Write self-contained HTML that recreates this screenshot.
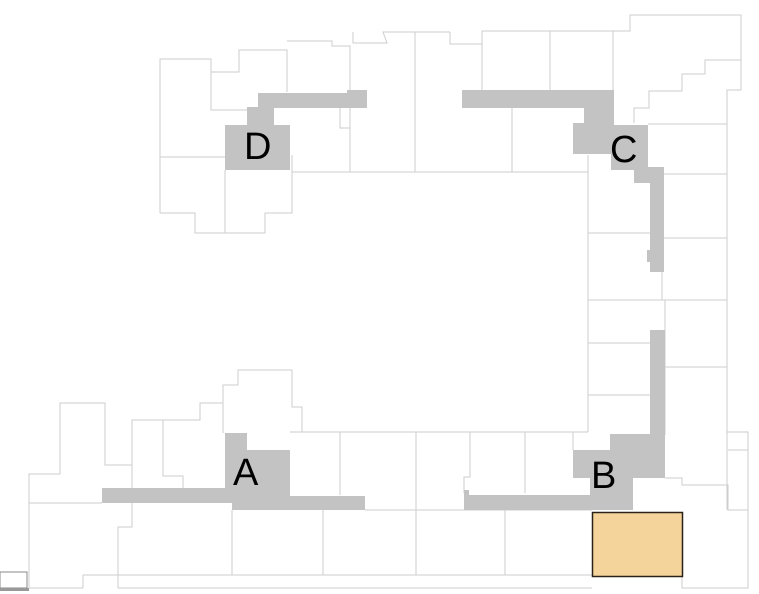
<!DOCTYPE html>
<html><head><meta charset="utf-8"><style>
html,body{margin:0;padding:0;background:#fff;}
svg{display:block;}
text{font-family:"Liberation Sans",sans-serif;font-size:38px;fill:#000;}
</style></head><body>
<svg width="759" height="594" viewBox="0 0 759 594" xmlns="http://www.w3.org/2000/svg">
<g fill="none" stroke="#cdcdcd" stroke-width="1">
<polyline points="160,213 160,59 211,59 211,110 253,110"/>
<polyline points="211,72 239,72 239,50 287,50 287,92"/>
<polyline points="287,41 332,41 332,46 350,46 350,92"/>
<polyline points="353,32 353,43 387,43 383,32 450,32"/>
<line x1="160" y1="157" x2="225" y2="157"/>
<polyline points="160,213 195,213 195,233 265,233 265,213 292,213 292,155"/>
<line x1="225" y1="170" x2="225" y2="233"/>
<polyline points="292,172 415,172"/>
<line x1="350" y1="108" x2="350" y2="172"/>
<polyline points="340,108 340,128 350,128"/>
<line x1="415" y1="32" x2="415" y2="172"/>
<polyline points="450,32 450,44 482,44 482,31 613,31 613,108"/>
<line x1="482" y1="44" x2="482" y2="93"/>
<line x1="550" y1="31" x2="550" y2="93"/>
<polyline points="613,31 630,31 630,15 741,15 741,90 727,90 727,510"/>
<polyline points="741,60 705,60 705,74 682,74 682,91 649,91 649,108 634,108 634,123"/>
<line x1="415" y1="172" x2="588" y2="172"/>
<line x1="512" y1="108" x2="512" y2="172"/>
<line x1="588" y1="155" x2="588" y2="432"/>
<line x1="648" y1="124" x2="727" y2="124"/>
<line x1="664" y1="174" x2="727" y2="174"/>
<line x1="664" y1="238" x2="727" y2="238"/>
<line x1="588" y1="233" x2="650" y2="233"/>
<line x1="662" y1="272" x2="662" y2="300"/>
<line x1="665" y1="300" x2="665" y2="435"/>
<line x1="588" y1="300" x2="727" y2="300"/>
<line x1="588" y1="343" x2="650" y2="343"/>
<line x1="588" y1="395" x2="650" y2="395"/>
<line x1="665" y1="367" x2="727" y2="367"/>
<polyline points="727,432 748,432 748,588 682,588 682,577"/>
<polyline points="728,450 748,450"/>
<polyline points="665,478 682,478 682,485 728,485 728,510 748,510"/>
<line x1="415" y1="432" x2="588" y2="432"/>
<line x1="416" y1="432" x2="416" y2="575"/>
<polyline points="470,432 470,477 464,477 464,493"/>
<line x1="525" y1="432" x2="525" y2="493"/>
<line x1="573" y1="432" x2="573" y2="450"/>
<line x1="365" y1="510" x2="592" y2="510"/>
<line x1="505" y1="510" x2="505" y2="575"/>
<line x1="118" y1="575" x2="592" y2="575"/>
<line x1="118" y1="588" x2="592" y2="588"/>
<polyline points="29,588 29,474 60,474 60,403 105,403 105,465 132,465 132,527 118,527 118,588"/>
<polyline points="132,465 132,420 163,420 163,476 183,476 183,488"/>
<polyline points="163,420 200,420 200,403 223,403 223,385 238,385 238,370 292,370 292,407 302,407 302,432 290,432"/>
<line x1="223" y1="385" x2="223" y2="433"/>
<line x1="290" y1="432" x2="415" y2="432"/>
<line x1="340" y1="432" x2="340" y2="495"/>
<line x1="29" y1="503" x2="102" y2="503"/>
<line x1="232" y1="510" x2="232" y2="575"/>
<line x1="323" y1="510" x2="323" y2="575"/>
<line x1="29" y1="588" x2="83" y2="588"/>
<line x1="83" y1="575" x2="118" y2="575"/>
<line x1="83" y1="575" x2="83" y2="588"/>
</g>
<rect x="0" y="572" width="27" height="16" fill="none" stroke="#888" stroke-width="1"/>
<rect x="0" y="588" width="29" height="3" fill="#999"/>
<g fill="#c3c3c3">
<rect x="258" y="93" width="109" height="15"/>
<rect x="347" y="90" width="20" height="18"/>
<rect x="247" y="107" width="27" height="20"/>
<rect x="225" y="125" width="65" height="45"/>
<rect x="462" y="90" width="152" height="18"/>
<rect x="584" y="106" width="30" height="20"/>
<rect x="573" y="123" width="41" height="31"/>
<rect x="611" y="125" width="37" height="45"/>
<rect x="634" y="167" width="30" height="16"/>
<rect x="650" y="180" width="14" height="92"/>
<rect x="647" y="250" width="5" height="12"/>
<rect x="102" y="488" width="130" height="15"/>
<rect x="225" y="433" width="22" height="20"/>
<rect x="225" y="450" width="65" height="46"/>
<rect x="232" y="490" width="42" height="20"/>
<rect x="274" y="496" width="91" height="14"/>
<rect x="650" y="330" width="15" height="105"/>
<rect x="610" y="434" width="55" height="44"/>
<rect x="573" y="450" width="40" height="28"/>
<rect x="590" y="476" width="43" height="34"/>
<rect x="464" y="495" width="130" height="15"/>
<rect x="464" y="490" width="5" height="6"/>
</g>
<rect x="592.5" y="512.5" width="90" height="64" fill="#f5d49c" stroke="#2a2218" stroke-width="1.5"/>
<text x="244" y="159">D</text>
<text x="610" y="162">C</text>
<text x="233" y="485">A</text>
<text x="591" y="488">B</text>
</svg>
</body></html>
